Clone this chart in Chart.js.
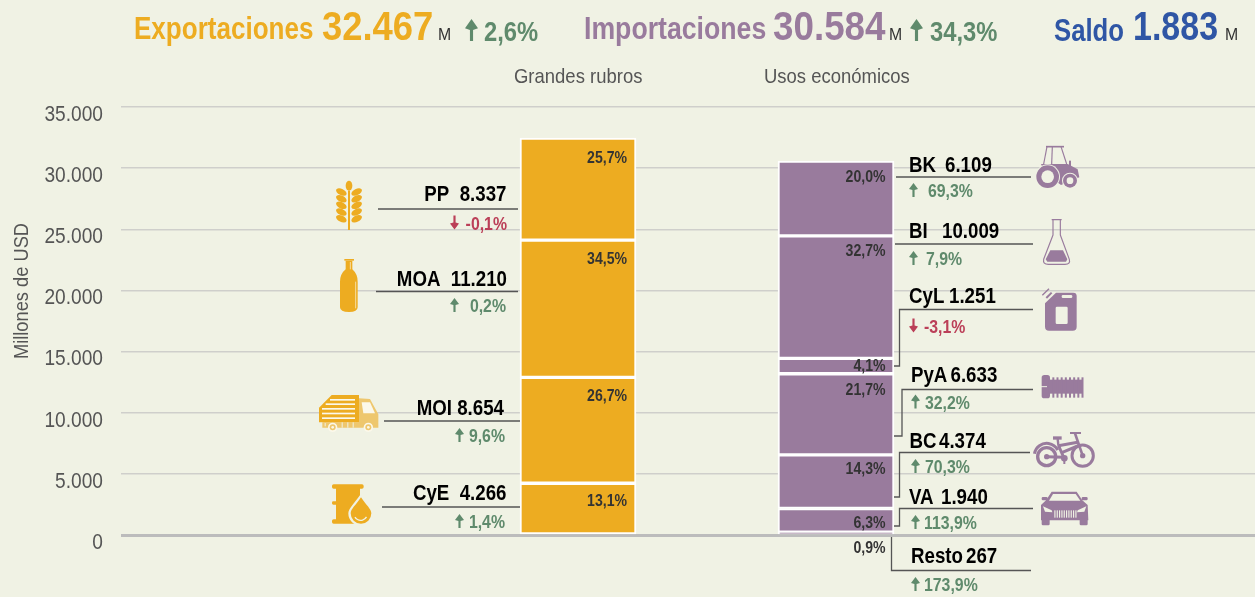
<!DOCTYPE html>
<html>
<head>
<meta charset="utf-8">
<style>
  html, body { margin: 0; padding: 0; background: #f0f2e4; overflow: hidden; }
  #wrap { position: relative; width: 1255px; height: 597px; }
</style>
<script src="https://cdn.jsdelivr.net/npm/chart.js@4"></script>
</head>
<body>
<div id="wrap"><canvas id="balance" width="1255" height="597"></canvas></div>
<script>
// values, bottom segment first
const rubros = ["CyE", "MOI", "MOA", "PP"];
const rubrosValues = [4266, 8654, 11210, 8337];
const rubrosShares = ["13,1%", "26,7%", "34,5%", "25,7%"];
const rubrosChanges = ["1,4%", "9,6%", "0,2%", "-0,1%"];

const usos = ["Resto", "VA", "BC", "PyA", "CyL", "BI", "BK"];
const usosValues = [267, 1940, 4374, 6633, 1251, 10009, 6109];
const usosShares = ["0,9%", "6,3%", "14,3%", "21,7%", "4,1%", "32,7%", "20,0%"];
const usosChanges = ["173,9%", "113,9%", "70,3%", "32,2%", "-3,1%", "7,9%", "69,3%"];

const yTicks = [0, 5000, 10000, 15000, 20000, 25000, 30000, 35000];

const ORANGE = "#edac21";
const PURPLE = "#997b9d";
const BLUE = "#2f56a5";
const GREEN = "#5f8a6c";
const RED = "#bb3f58";
const BG = "#f0f2e4";
const GREY = "#555555";
const SANS = '"Liberation Sans", sans-serif';

// no condensed face is installed, so text gets squeezed horizontally
const NAME_SQ = 0.85;
const CHG_SQ = 0.88;
const SHARE_SQ = 0.88;
const AXIS_SQ = 0.87;

// where the hand placed callouts sit, in page pixels
const rubrosCallouts = {
  PP: { right: 506.5, y: 201, line: [[378, 209], [518, 209]], dy: 229.5, arrow: 450, chgRight: 507, gap: "  " },
  MOA: { right: 507, y: 286, line: [[376, 291.5], [518, 291.5]], dy: 312, arrow: 450, chgRight: 506, gap: "  " },
  MOI: { right: 504, y: 415, line: [[384, 421], [520, 421]], dy: 442, arrow: 455, chgRight: 505, gap: " " },
  CyE: { right: 506.5, y: 500, line: [[382, 507], [520, 507]], dy: 528, arrow: 455, chgRight: 505, gap: "  " },
};
const usosCallouts = {
  BK: { x: 909, vx: 945, y: 172, line: [[896, 177], [1031, 177]], dy: 197, arrow: 909, chg: 928 },
  BI: { x: 909, vx: 942, y: 238, line: [[895, 244], [1033, 244]], dy: 265, arrow: 909, chg: 926 },
  CyL: { x: 909, vx: 949, y: 303, line: [[894, 366], [899.5, 366], [899.5, 309.5], [1033, 309.5]], dy: 332.5, arrow: 909, chg: 924 },
  PyA: { x: 911, vx: 950.5, y: 382, line: [[894, 436], [902, 436], [902, 389.5], [1033, 389.5]], dy: 408.5, arrow: 911, chg: 925 },
  BC: { x: 909.5, vx: 939, y: 447.5, line: [[894, 497], [899.5, 497], [899.5, 452.5], [1030, 452.5]], dy: 473, arrow: 911, chg: 925 },
  VA: { x: 909, vx: 941, y: 503.5, line: [[894, 526], [899.5, 526], [899.5, 508.5], [1033, 508.5]], dy: 529, arrow: 911, chg: 924 },
  Resto: { x: 911, vx: 966, y: 562.5, line: [[891.5, 537], [891.5, 570.5], [1031, 570.5]], dy: 591, arrow: 911, chg: 924 },
};
// baseline of the share text in each segment, bottom first
const rubrosShareY = [506, 401, 264, 163];
const usosShareY = [552.5, 528, 474, 395, 371, 256, 182];

function txt(ctx, s, x, y, font, color, align, sx) {
  ctx.save();
  ctx.translate(x, y);
  ctx.scale(sx || 1, 1);
  ctx.font = font;
  ctx.fillStyle = color;
  ctx.textAlign = align || "left";
  ctx.textBaseline = "alphabetic";
  ctx.fillText(s, 0, 0);
  ctx.restore();
}

function arrow(ctx, x, base, w, h, down, color) {
  const top = base - h;
  const cx = x + w / 2;
  const stem = Math.max(1.6, w * 0.24);
  ctx.fillStyle = color;
  ctx.beginPath();
  if (down) {
    ctx.moveTo(cx, base);
    ctx.lineTo(x, base - h * 0.42);
    ctx.lineTo(cx - stem / 2, base - h * 0.5);
    ctx.lineTo(cx - stem / 2, top);
    ctx.lineTo(cx + stem / 2, top);
    ctx.lineTo(cx + stem / 2, base - h * 0.5);
    ctx.lineTo(x + w, base - h * 0.42);
  } else {
    ctx.moveTo(cx, top);
    ctx.lineTo(x, top + h * 0.42);
    ctx.lineTo(cx - stem / 2, top + h * 0.5);
    ctx.lineTo(cx - stem / 2, base);
    ctx.lineTo(cx + stem / 2, base);
    ctx.lineTo(cx + stem / 2, top + h * 0.5);
    ctx.lineTo(x + w, top + h * 0.42);
  }
  ctx.closePath();
  ctx.fill();
}

// --- icons, drawn in 3x crop units ---
function icon(ctx, ox, oy, color, fn) {
  ctx.save();
  ctx.translate(ox, oy);
  ctx.scale(1 / 3, 1 / 3);
  ctx.fillStyle = color;
  ctx.strokeStyle = color;
  ctx.lineJoin = "round";
  fn(ctx);
  ctx.restore();
}
function poly(ctx, pts, fill) {
  ctx.beginPath();
  pts.forEach((p, i) => (i ? ctx.lineTo(p[0], p[1]) : ctx.moveTo(p[0], p[1])));
  ctx.closePath();
  if (fill) ctx.fillStyle = fill;
  ctx.fill();
}
function seg(ctx, a, b, w, color) {
  ctx.beginPath();
  ctx.moveTo(a[0], a[1]);
  ctx.lineTo(b[0], b[1]);
  ctx.lineWidth = w;
  if (color) ctx.strokeStyle = color;
  ctx.stroke();
}
function disc(ctx, x, y, r, color) {
  ctx.beginPath();
  ctx.arc(x, y, r, 0, Math.PI * 2);
  if (color) ctx.fillStyle = color;
  ctx.fill();
}

function wheat(c) {
  c.fillRect(114, 62, 6, 118);
  c.beginPath();
  c.ellipse(117, 47, 10, 15, 0, 0, Math.PI * 2);
  c.fill();
  [66, 86, 106, 126, 146].forEach((y) => {
    [-1, 1].forEach((s) => {
      c.beginPath();
      c.ellipse(117 + s * 23, y, 17, 9.5, s * -0.45, 0, Math.PI * 2);
      c.fill();
    });
  });
}
function bottle(c) {
  c.fillRect(103, 267, 29, 5);
  c.beginPath();
  c.moveTo(107, 272);
  c.lineTo(127, 272);
  c.lineTo(127, 298);
  c.quadraticCurveTo(143, 312, 143, 335);
  c.lineTo(143, 412);
  c.quadraticCurveTo(143, 426, 117, 426);
  c.quadraticCurveTo(90, 426, 90, 412);
  c.lineTo(90, 335);
  c.quadraticCurveTo(90, 312, 107, 298);
  c.closePath();
  c.fill();
  seg(c, [137, 335], [137, 415], 2.5, "#f8e6b8");
  seg(c, [121, 276], [121, 298], 2.5, "#f8e6b8");
}
function truck(c) {
  poly(c, [[147, 40], [180, 42], [205, 88], [205, 128], [37, 128], [37, 112], [147, 112]], "#eec76e");
  poly(c, [[155, 52], [180, 52], [195, 85], [160, 85]], "#fbf8ea");
  poly(c, [[27, 68], [65, 30], [147, 30], [147, 112], [27, 112]], ORANGE);
  c.fillStyle = "#fbf8ea";
  c.fillRect(60, 42, 75, 5);
  c.fillRect(47, 55, 88, 5);
  c.fillRect(36, 69, 99, 5);
  c.fillRect(36, 83, 99, 5);
  c.fillRect(36, 97, 99, 5);
  c.fillStyle = BG;
  [95, 112, 128].forEach((x) => c.fillRect(x, 112, 3, 16));
  c.fillRect(44, 114, 3, 10);
  [68, 175].forEach((x) => {
    disc(c, x, 127, 14, "#fbf8ea");
    disc(c, x, 127, 9, "#eec76e");
    disc(c, x, 127, 4, "#fbf8ea");
  });
}
function drum(c) {
  c.beginPath();
  c.roundRect(66, 298, 95, 13, 5);
  c.roundRect(66, 403, 95, 13, 5);
  c.rect(78, 305, 72, 104);
  c.roundRect(66, 349, 20, 10, 4);
  c.fill();
  c.fillStyle = BG;
  c.fillRect(70, 318, 8, 22);
  c.fillRect(70, 366, 8, 26);
  const dropPath = (r) => {
    c.beginPath();
    c.moveTo(153, 385 - r * 1.55);
    c.bezierCurveTo(153 + r * 0.5, 385 - r * 0.8, 153 + r, 385 - r * 0.4, 153 + r, 385);
    c.arc(153, 385, r, 0, Math.PI);
    c.bezierCurveTo(153 - r, 385 - r * 0.4, 153 - r * 0.5, 385 - r * 0.8, 153, 385 - r * 1.55);
    c.closePath();
    c.fill();
  };
  c.fillStyle = BG;
  dropPath(38);
  c.fillStyle = ORANGE;
  dropPath(31);
  c.beginPath();
  c.arc(152, 386, 20, 0.5, 2.6);
  c.lineWidth = 4;
  c.strokeStyle = BG;
  c.stroke();
}
function tractor(c) {
  seg(c, [63, 20], [117, 20], 5);
  seg(c, [66, 20], [56, 72], 3.5);
  seg(c, [82, 20], [80, 72], 3.5);
  seg(c, [108, 20], [125, 72], 3.5);
  c.fillRect(132, 62, 6, 20);
  poly(c, [[48, 72], [128, 72], [158, 88], [163, 112], [108, 135], [60, 100]]);
  disc(c, 68, 110, 37, BG);
  disc(c, 68, 110, 34, PURPLE);
  disc(c, 68, 110, 19, BG);
  disc(c, 135, 122, 24, BG);
  disc(c, 135, 122, 21, PURPLE);
  disc(c, 135, 122, 10, BG);
}
function flask(c) {
  c.beginPath();
  c.moveTo(80, 239);
  c.lineTo(110, 239);
  c.moveTo(84, 239);
  c.lineTo(84, 285);
  c.lineTo(56, 358);
  c.quadraticCurveTo(53, 373, 70, 373);
  c.lineTo(120, 373);
  c.quadraticCurveTo(137, 373, 133, 358);
  c.lineTo(106, 285);
  c.lineTo(106, 239);
  c.lineWidth = 3.5;
  c.stroke();
  poly(c, [[76, 331], [114, 331], [127, 358], [123, 365], [67, 365], [62, 358]]);
}
function jerrycan(c) {
  c.beginPath();
  c.moveTo(93, 458);
  c.lineTo(145, 458);
  c.quadraticCurveTo(155, 458, 155, 468);
  c.lineTo(155, 560);
  c.quadraticCurveTo(155, 572, 143, 572);
  c.lineTo(72, 572);
  c.quadraticCurveTo(60, 572, 60, 560);
  c.lineTo(60, 490);
  c.closePath();
  c.fill();
  seg(c, [52, 466], [72, 446], 4);
  seg(c, [64, 474], [80, 458], 6);
  c.fillStyle = BG;
  c.beginPath();
  c.roundRect(92, 500, 36, 52, 4);
  c.roundRect(110, 465, 32, 9, 4);
  c.fill();
}
function bolt(c) {
  c.beginPath();
  c.roundRect(50, 30, 25, 70, 8);
  c.fill();
  c.fillRect(70, 44, 102, 42);
  for (let x = 82; x < 172; x += 12.5) {
    c.fillRect(x, 37, 6, 61);
  }
  seg(c, [48, 65], [66, 65], 3, BG);
}
function bike(c) {
  const wheel = (x, y, r, w) => {
    c.beginPath();
    c.arc(x, y, r, 0, Math.PI * 2);
    c.lineWidth = w;
    c.stroke();
  };
  wheel(65, 275, 27, 10);
  wheel(173, 272, 32, 9);
  disc(c, 65, 275, 8);
  disc(c, 173, 272, 8);
  // fenders and frame
  c.beginPath();
  c.arc(65, 272, 37, Math.PI * 1.05, Math.PI * 1.85);
  c.lineWidth = 9;
  c.stroke();
  seg(c, [65, 275], [118, 277], 9);
  seg(c, [100, 240], [118, 282], 9);
  seg(c, [100, 242], [158, 232], 9);
  seg(c, [112, 262], [165, 240], 9);
  seg(c, [150, 205], [173, 272], 8);
  seg(c, [135, 204], [168, 204], 6);
  seg(c, [84, 219], [110, 219], 10);
  seg(c, [98, 222], [100, 240], 7);
  disc(c, 118, 280, 10);
  seg(c, [118, 280], [118, 297], 6);
}
function car(c) {
  poly(c, [[80, 380], [155, 380], [172, 406], [188, 420], [190, 466], [48, 466], [48, 420], [63, 406]]);
  c.beginPath();
  c.roundRect(50, 396, 18, 10, 4);
  c.roundRect(170, 396, 18, 10, 4);
  c.roundRect(50, 460, 24, 21, 4);
  c.roundRect(164, 460, 24, 21, 4);
  c.fill();
  // windshield, headlights
  poly(c, [[84, 387], [152, 387], [166, 407], [72, 407]], BG);
  poly(c, [[54, 424], [80, 436], [82, 442], [60, 440]], BG);
  poly(c, [[184, 424], [158, 436], [156, 442], [178, 440]], BG);
  c.fillStyle = BG;
  for (let x = 88; x < 152; x += 7) c.fillRect(x, 436, 3.5, 22);
}

const decorPlugin = {
  id: "decor",
  beforeDraw(chart) {
    // axis labels go through the library too, just squeezed to the narrow look
    const y = chart.scales.y;
    if (y.squeezed) return;
    y.squeezed = true;
    const drawLabels = y.drawLabels;
    y.drawLabels = function (area) {
      const ctx = chart.ctx;
      ctx.save();
      ctx.translate(103, 0);
      ctx.scale(AXIS_SQ, 1);
      ctx.translate(-103, 0);
      drawLabels.call(this, area);
      ctx.restore();
    };
  },
  afterDatasetsDraw(chart) {
    const ctx = chart.ctx;
    ctx.save();

    // headline
    const big = "bold 40px " + SANS;
    const mid = "bold 31px " + SANS;
    const chg = "bold 27px " + SANS;
    const small = "17px " + SANS;
    txt(ctx, "Exportaciones", 134, 39, mid, ORANGE, "left", 0.84);
    txt(ctx, "32.467", 322, 40, big, ORANGE, "left", 0.91);
    txt(ctx, "M", 438, 40, small, "#333", "left", 0.93);
    arrow(ctx, 465, 41, 13, 22, false, GREEN);
    txt(ctx, "2,6%", 484, 40.5, chg, GREEN, "left", CHG_SQ);
    txt(ctx, "Importaciones", 584, 39, mid, PURPLE, "left", 0.86);
    txt(ctx, "30.584", 773, 40, big, PURPLE, "left", 0.92);
    txt(ctx, "M", 889, 40, small, "#333", "left", 0.93);
    arrow(ctx, 910, 41, 13, 22, false, GREEN);
    txt(ctx, "34,3%", 930, 40.5, chg, GREEN, "left", CHG_SQ);
    txt(ctx, "Saldo", 1054, 41, mid, BLUE, "left", 0.83);
    txt(ctx, "1.883", 1133, 40, big, BLUE, "left", 0.85);
    txt(ctx, "M", 1225, 40, small, "#333", "left", 0.93);

    // stack titles
    txt(ctx, "Grandes rubros", 514, 83, "21px " + SANS, GREY, "left", 0.88);
    txt(ctx, "Usos económicos", 764, 83, "21px " + SANS, GREY, "left", 0.88);

    // y axis title
    ctx.save();
    ctx.translate(27.5, 291);
    ctx.rotate(-Math.PI / 2);
    txt(ctx, "Millones de USD", 0, 0, "21px " + SANS, GREY, "center", 0.87);
    ctx.restore();

    // share of each segment
    const shareFont = "bold 16px " + SANS;
    rubrosShares.forEach((s, i) => txt(ctx, s, 627, rubrosShareY[i], shareFont, "#333", "right", SHARE_SQ));
    usosShares.forEach((s, i) => txt(ctx, s, 885.5, usosShareY[i], shareFont, "#333", "right", SHARE_SQ));

    // callouts
    const nameFont = "bold 22px " + SANS;
    const chgFont = "bold 18px " + SANS;
    const drawLine = (pts) => {
      ctx.beginPath();
      pts.forEach((p, i) => (i ? ctx.lineTo(p[0], p[1]) : ctx.moveTo(p[0], p[1])));
      ctx.lineWidth = 1.3;
      ctx.strokeStyle = "#555";
      ctx.stroke();
    };
    const fmt = (v) => String(v).replace(/\B(?=(\d{3})+$)/g, ".");
    rubros.forEach((name, i) => {
      const c = rubrosCallouts[name];
      txt(ctx, name + c.gap + fmt(rubrosValues[i]), c.right, c.y, nameFont, "#000", "right", NAME_SQ);
      drawLine(c.line);
      const down = rubrosChanges[i][0] === "-";
      const col = down ? RED : GREEN;
      arrow(ctx, c.arrow, c.dy, 9, 14, down, col);
      txt(ctx, rubrosChanges[i], c.chgRight, c.dy, chgFont, col, "right", CHG_SQ);
    });
    usos.forEach((name, i) => {
      const c = usosCallouts[name];
      txt(ctx, name, c.x, c.y, nameFont, "#000", "left", NAME_SQ);
      txt(ctx, fmt(usosValues[i]), c.vx, c.y, nameFont, "#000", "left", NAME_SQ);
      drawLine(c.line);
      const down = usosChanges[i][0] === "-";
      const col = down ? RED : GREEN;
      arrow(ctx, c.arrow, c.dy, 9, 14, down, col);
      txt(ctx, usosChanges[i], c.chg, c.dy, chgFont, col, "left", CHG_SQ);
    });

    // pictograms
    icon(ctx, 310, 170, ORANGE, wheat);
    icon(ctx, 310, 170, ORANGE, bottle);
    icon(ctx, 310, 385, ORANGE, truck);
    icon(ctx, 310, 385, ORANGE, drum);
    icon(ctx, 1025, 140, PURPLE, tractor);
    icon(ctx, 1025, 140, PURPLE, flask);
    icon(ctx, 1025, 140, PURPLE, jerrycan);
    icon(ctx, 1025, 365, PURPLE, bolt);
    icon(ctx, 1025, 365, PURPLE, bike);
    icon(ctx, 1025, 365, PURPLE, car);
    ctx.restore();
  },
};

function stackDatasets(names, values, xPos, color) {
  return names.map((name, i) => ({
    label: name,
    data: [{ x: xPos, y: values[i] }],
    backgroundColor: color,
    borderColor: "#ffffff",
    borderWidth: 2,
    borderSkipped: false,
    barThickness: 116,
    grouped: false,
  }));
}

new Chart(document.getElementById("balance"), {
  type: "bar",
  data: {
    datasets: [
      ...stackDatasets(rubros, rubrosValues, 0, ORANGE),
      ...stackDatasets(usos, usosValues, 1, PURPLE),
    ],
  },
  plugins: [decorPlugin],
  options: {
    responsive: false,
    animation: false,
    layout: { padding: { top: 107, bottom: 61.5, left: 0, right: 0 } },
    plugins: { legend: { display: false }, tooltip: { enabled: false } },
    scales: {
      x: {
        type: "linear",
        display: false,
        offset: false,
        // stacks are 258 px apart, the plot starts 457 px left of the first one
        min: -457 / 258,
        max: 677 / 258,
      },
      y: {
        stacked: true,
        min: 0,
        max: 35000,
        afterFit(scale) { scale.width = 121; },
        afterBuildTicks(scale) { scale.ticks = yTicks.map((v) => ({ value: v })); },
        border: { display: false },
        grid: {
          drawTicks: false,
          color: (c) => (c.tick.value === 0 ? "#bcbcbc" : "#cfcfcb"),
          lineWidth: (c) => (c.tick.value === 0 ? 3 : 1.6),
        },
        ticks: {
          padding: 18,
          labelOffset: 7.5,
          color: GREY,
          font: { family: SANS, size: 22 },
          callback: (v) => String(v).replace(/\B(?=(\d{3})+$)/g, "."),
        },
      },
    },
  },
});
</script>
</body>
</html>
